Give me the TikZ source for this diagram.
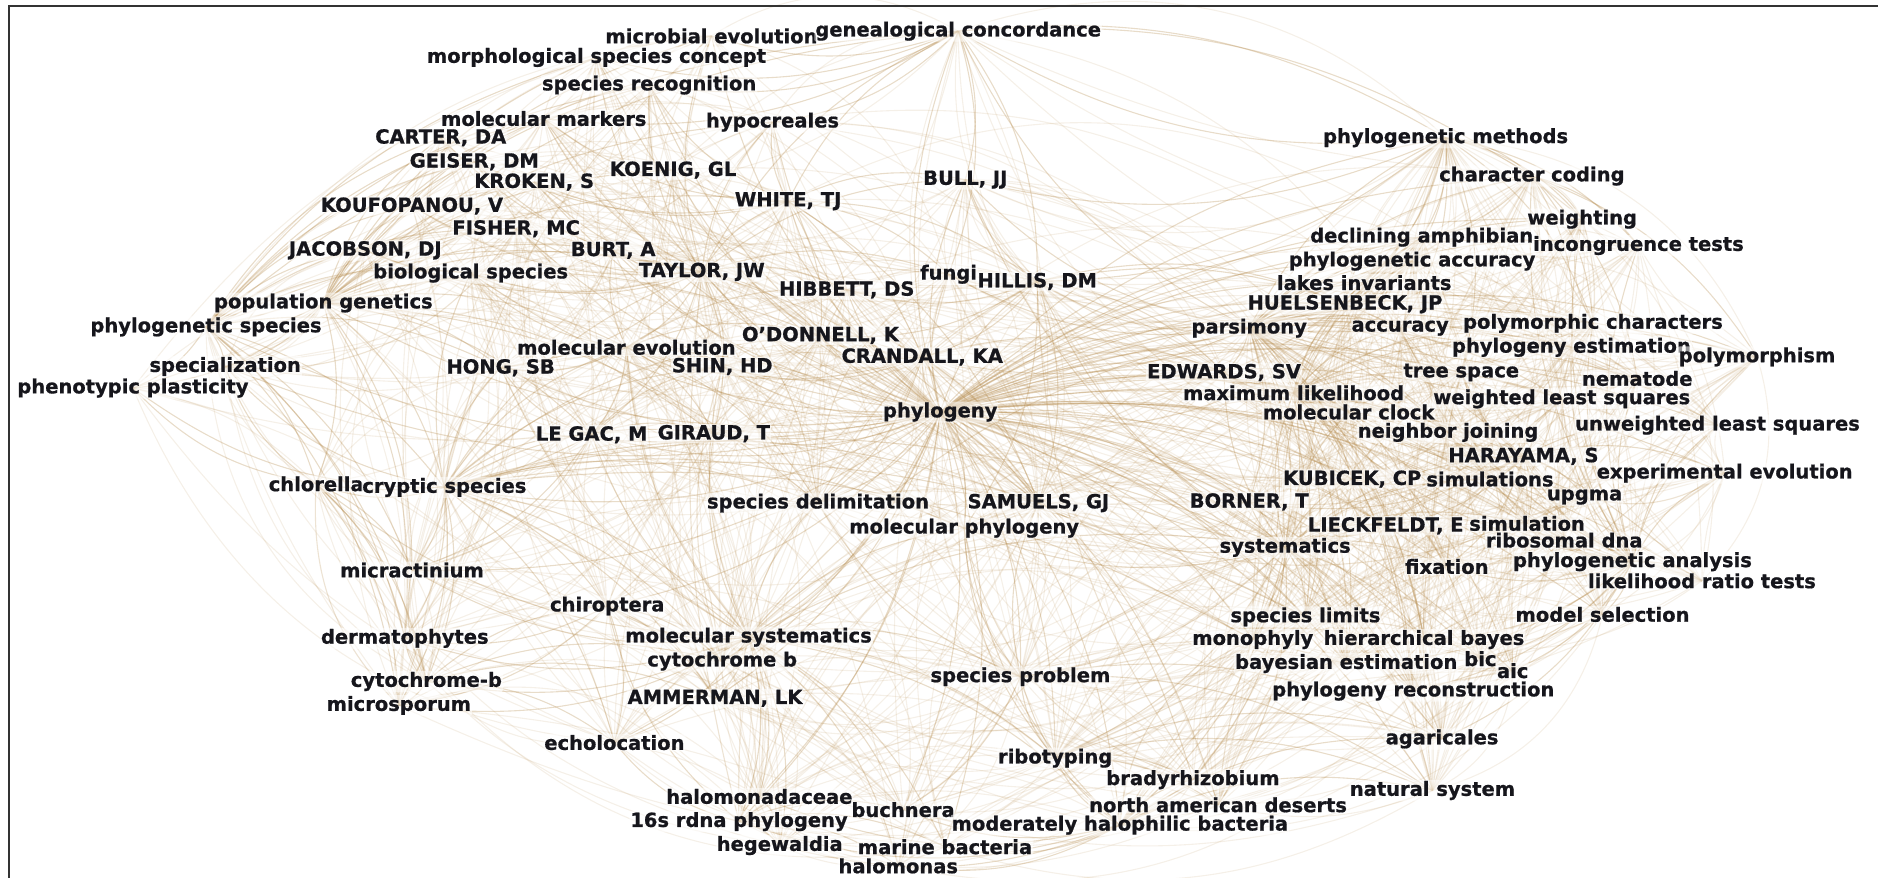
\documentclass[tikz,border=0pt]{standalone}
\usepackage{fontspec}
\setmainfont{DejaVu Sans}[BoldFeatures={FakeBold=0.8}]
\usetikzlibrary{backgrounds}
\definecolor{edgetan}{RGB}{180,138,76}
\definecolor{labelink}{RGB}{22,22,28}

\begin{document}
\begin{tikzpicture}[x=1.1977pt,y=-1.1977pt,
  lbl/.style={font=\bfseries\fontsize{19.5}{20}\selectfont,text=labelink,fill=white,fill opacity=0.55,text opacity=1,inner sep=1pt,rounded corners=2pt},
  link/.style={edgetan,opacity=0.3,line width=1.1pt,bend left=18},
  mesh/.style={edgetan,opacity=0.13,line width=1.1pt}]
\useasboundingbox (0,0) rectangle (1568,733);
\draw[line width=2.5pt,black!80] (7.5,733) |- (1568,5);

\node[lbl] (mev) at (594,30) {microbial evolution};
\node[lbl] (gen) at (800,26) {genealogical concordance};
\node[lbl] (msc) at (498,48) {morphological species concept};
\node[lbl] (srec) at (542,71) {species recognition};
\node[lbl] (mmk) at (454,99) {molecular markers};
\node[lbl] (hyp) at (645,102) {hypocreales};
\node[lbl] (cart) at (368,115) {CARTER, DA};
\node[lbl] (geis) at (396,135) {GEISER, DM};
\node[lbl] (koen) at (562,142) {KOENIG, GL};
\node[lbl] (krok) at (446,152) {KROKEN, S};
\node[lbl] (bull) at (806,150) {BULL, JJ};
\node[lbl] (whit) at (658,168) {WHITE, TJ};
\node[lbl] (kouf) at (344,172) {KOUFOPANOU, V};
\node[lbl] (fish) at (431,191) {FISHER, MC};
\node[lbl] (jaco) at (305,209) {JACOBSON, DJ};
\node[lbl] (burt) at (512,209) {BURT, A};
\node[lbl] (bios) at (393,228) {biological species};
\node[lbl] (tayl) at (586,227) {TAYLOR, JW};
\node[lbl] (fung) at (792,229) {fungi};
\node[lbl] (hill) at (866,235) {HILLIS, DM};
\node[lbl] (hibb) at (707,242) {HIBBETT, DS};
\node[lbl] (popg) at (270,253) {population genetics};
\node[lbl] (phsp) at (172,273) {phylogenetic species};
\node[lbl] (spec) at (188,306) {specialization};
\node[lbl] (mole) at (523,290) {molecular evolution};
\node[lbl] (odon) at (685,280) {O'DONNELL, K};
\node[lbl] (hong) at (418,307) {HONG, SB};
\node[lbl] (shin) at (603,306) {SHIN, HD};
\node[lbl] (cran) at (770,298) {CRANDALL, KA};
\node[lbl] (phen) at (111,324) {phenotypic plasticity};
\node[lbl] (phyl) at (785,344) {phylogeny};
\node[lbl] (lega) at (494,363) {LE GAC, M};
\node[lbl] (gira) at (596,362) {GIRAUD, T};
\node[lbl] (chlo) at (264,404) {chlorella};
\node[lbl] (cryp) at (371,407) {cryptic species};
\node[lbl] (sdel) at (683,420) {species delimitation};
\node[lbl] (samu) at (867,420) {SAMUELS, GJ};
\node[lbl] (mphy) at (805,441) {molecular phylogeny};
\node[lbl] (micr) at (344,476) {micractinium};
\node[lbl] (chir) at (507,506) {chiroptera};
\node[lbl] (derm) at (338,533) {dermatophytes};
\node[lbl] (msys) at (625,532) {molecular systematics};
\node[lbl] (cytb) at (603,552) {cytochrome b};
\node[lbl] (cytd) at (356,569) {cytochrome-b};
\node[lbl] (sprob) at (852,565) {species problem};
\node[lbl] (amme) at (597,583) {AMMERMAN, LK};
\node[lbl] (msp) at (333,589) {microsporum};
\node[lbl] (echo) at (513,620) {echolocation};
\node[lbl] (ribo) at (881,633) {ribotyping};
\node[lbl] (brad) at (996,651) {bradyrhizobium};
\node[lbl] (hfam) at (634,665) {halomonadaceae};
\node[lbl] (buch) at (754,676) {buchnera};
\node[lbl] (nad) at (1017,672) {north american deserts};
\node[lbl] (nats) at (1196,660) {natural system};
\node[lbl] (rdna) at (617,686) {16s rdna phylogeny};
\node[lbl] (mhb) at (935,689) {moderately halophilic bacteria};
\node[lbl] (hege) at (651,706) {hegewaldia};
\node[lbl] (marb) at (789,707) {marine bacteria};
\node[lbl] (halo) at (750,723) {halomonas};

\node[lbl] (pmet) at (1207,115) {phylogenetic methods};
\node[lbl] (ccod) at (1279,147) {character coding};
\node[lbl] (wght) at (1321,183) {weighting};
\node[lbl] (damp) at (1187,198) {declining amphibian};
\node[lbl] (inct) at (1368,205) {incongruence tests};
\node[lbl] (pacc) at (1179,218) {phylogenetic accuracy};
\node[lbl] (lake) at (1139,236) {lakes invariants};
\node[lbl] (huel) at (1123,254) {HUELSENBECK, JP};
\node[lbl] (pars) at (1043,274) {parsimony};
\node[lbl] (accu) at (1169,274) {accuracy};
\node[lbl] (pchr) at (1330,270) {polymorphic characters};
\node[lbl] (pest) at (1312,290) {phylogeny estimation};
\node[lbl] (pmor) at (1467,298) {polymorphism};
\node[lbl] (edwa) at (1022,311) {EDWARDS, SV};
\node[lbl] (tree) at (1220,311) {tree space};
\node[lbl] (nema) at (1367,316) {nematode};
\node[lbl] (mlik) at (1080,328) {maximum likelihood};
\node[lbl] (wls) at (1304,333) {weighted least squares};
\node[lbl] (mclk) at (1126,344) {molecular clock};
\node[lbl] (nj) at (1209,361) {neighbor joining};
\node[lbl] (uwls) at (1434,355) {unweighted least squares};
\node[lbl] (hara) at (1272,381) {HARAYAMA, S};
\node[lbl] (expe) at (1440,395) {experimental evolution};
\node[lbl] (kubi) at (1129,400) {KUBICEK, CP};
\node[lbl] (sims) at (1244,400) {simulations};
\node[lbl] (born) at (1043,419) {BORNER, T};
\node[lbl] (upgm) at (1323,415) {upgma};
\node[lbl] (liec) at (1157,439) {LIECKFELDT, E};
\node[lbl] (simu) at (1275,437) {simulation};
\node[lbl] (ribd) at (1306,451) {ribosomal dna};
\node[lbl] (syst) at (1073,457) {systematics};
\node[lbl] (fixa) at (1208,473) {fixation};
\node[lbl] (pana) at (1363,469) {phylogenetic analysis};
\node[lbl] (lrt) at (1421,485) {likelihood ratio tests};
\node[lbl] (slim) at (1090,515) {species limits};
\node[lbl] (msel) at (1338,513) {model selection};
\node[lbl] (mono) at (1046,534) {monophyly};
\node[lbl] (hbay) at (1189,534) {hierarchical bayes};
\node[lbl] (best) at (1124,554) {bayesian estimation};
\node[lbl] (bic) at (1236,550) {bic};
\node[lbl] (aic) at (1263,560) {aic};
\node[lbl] (prec) at (1180,577) {phylogeny reconstruction};
\node[lbl] (agar) at (1204,617) {agaricales};

\def\nodenames{{"mev","gen","msc","srec","mmk","hyp","cart","geis","koen","krok","bull","whit","kouf","fish","jaco","burt","bios","tayl","fung","hill","hibb","popg","phsp","spec","mole","odon","hong","shin","cran","phen","phyl","lega","gira","chlo","cryp","sdel","samu","mphy","micr","chir","derm","msys","cytb","cytd","sprob","amme","msp","echo","ribo","brad","hfam","buch","nad","nats","rdna","mhb","hege","marb","halo","pmet","ccod","wght","damp","inct","pacc","lake","huel","pars","accu","pchr","pest","pmor","edwa","tree","nema","mlik","wls","mclk","nj","uwls","hara","expe","kubi","sims","born","upgm","liec","simu","ribd","syst","fixa","pana","lrt","slim","msel","mono","hbay","best","bic","aic","prec","agar"}}

\begin{pgfonlayer}{background}
\pgfmathsetseed{2718}
\foreach \i in {1,...,2400}{
  \pgfmathtruncatemacro{\ka}{random(0,101)}
  \pgfmathtruncatemacro{\kb}{random(0,101)}
  \pgfmathtruncatemacro{\bb}{10+mod(\i,4)*7}
  \pgfmathsetmacro{\na}{\nodenames[\ka]}
  \pgfmathsetmacro{\nb}{\nodenames[\kb]}
  \path (\na.center); \pgfgetlastxy{\xa}{\ya}
  \path (\nb.center); \pgfgetlastxy{\xb}{\yb}
  \pgfmathsetmacro{\dd}{veclen(\xb-\xa,\yb-\ya)}
  \ifdim\dd pt>20pt \ifdim\dd pt<640pt
    \draw[mesh,bend left=\bb] (\na.center) to (\nb.center);
  \fi\fi
}
\foreach \b in {gen,mev,msc,srec,mmk,hyp,bull,whit,tayl,fung,hill,hibb,odon,cran,shin,mole,hong,gira,lega,sdel,samu,mphy,msys,cytb,sprob,chir,cryp,popg,bios,phsp,burt,krok,koen,fish,pars,edwa,mlik,mclk,huel,accu,lake,pacc,damp,pmet,ccod,wght,inct,tree,nj,kubi,born,liec,syst,slim,mono,best,hbay,prec,agar,nats,ribo,brad,mhb,buch,hfam,rdna,marb,pest,pchr,wls,uwls,hara,sims,simu,fixa,ribd,pana,msel,lrt,upgm,expe,nema,pmor,aic,bic,echo,amme,micr,spec,nad}
  \draw[link] (phyl.center) to (\b.center);
\foreach \b in {phsp,spec,phen,bios,jaco,kouf,fish,geis,cart,krok,mmk,srec,msc,mev,tayl,burt,cryp,chlo,micr,derm,mole,hong,lega,gira,whit,koen,gen,sdel,hyp,odon}
  \draw[link] (popg.center) to (\b.center);
\foreach \b in {spec,phen,bios,jaco,kouf,cryp,chlo,derm,msp,cytd,mmk,srec,msc,gen,tayl,cart,geis,micr,fish,hong}
  \draw[link] (phsp.center) to (\b.center);
\foreach \b in {chlo,micr,lega,gira,hong,mole,shin,sdel,bios,spec,phen,derm,msp,cytd,chir,msys,echo,tayl,odon,samu,syst,slim,mono,cytb,amme,mphy}
  \draw[link] (cryp.center) to (\b.center);
\foreach \b in {chir,cytb,amme,echo,cytd,derm,msp,hfam,rdna,hege,buch,marb,halo,sprob,mphy,sdel,lega,gira,shin,syst,pars,micr,chlo,ribo,mhb,mole,hong}
  \draw[link] (msys.center) to (\b.center);
\foreach \b in {whit,koen,krok,geis,cart,fish,burt,jaco,kouf,bios,hibb,odon,shin,hong,mole,gen,hyp,mmk,srec,msc,fung,samu,sdel,mev,bull,lega,gira}
  \draw[link] (tayl.center) to (\b.center);
\foreach \b in {koen,hyp,gen,bull,hibb,odon,fung,geis,krok,mmk,srec,samu,cran,hill}
  \draw[link] (whit.center) to (\b.center);
\foreach \b in {edwa,mlik,mclk,huel,accu,lake,pacc,damp,pmet,ccod,wght,inct,tree,nj,pchr,pest,pmor,nema,wls,uwls,syst,slim,mono,hill,cran,bull,fung,gen,kubi,born,hara,sims,best,hbay,prec,fixa}
  \draw[link] (pars.center) to (\b.center);
\foreach \b in {born,liec,kubi,slim,mono,best,hbay,prec,agar,nats,fixa,simu,sims,mphy,samu,sprob,brad,nad,mhb,ribo,edwa,mlik,mclk,huel,hill,cran,bull,ribd,hara}
  \draw[link] (syst.center) to (\b.center);
\foreach \b in {msel,lrt,aic,bic,hbay,best,prec,ribd,simu,sims,hara,upgm,expe,uwls,wls,nema,pmor,pest,pchr,fixa,agar,nj,tree,mlik,mclk,accu,inct,wght,ccod}
  \draw[link] (pana.center) to (\b.center);
\foreach \b in {kubi,liec,born,upgm,nj,simu,expe,fixa,uwls,sims,ribd,mclk,tree}
  \draw[link] (hara.center) to (\b.center);
\foreach \b in {mclk,edwa,huel,accu,lake,pacc,damp,tree,nj,pest,wls,msel,lrt,aic,bic,best,hbay,slim,mono,prec,pchr}
  \draw[link] (mlik.center) to (\b.center);
\foreach \b in {ccod,wght,inct,damp,pacc,lake,huel,accu,gen,bull,hill,tree,pchr}
  \draw[link] (pmet.center) to (\b.center);
\foreach \b in {wght,inct,pchr,pmor,nema,pest,damp}
  \draw[link] (ccod.center) to (\b.center);
\foreach \b in {hfam,halo,marb,buch,rdna,hege,ribo,brad,nad,nats,sprob,mphy,agar}
  \draw[link] (mhb.center) to (\b.center);
\foreach \b in {hfam,hege,buch,halo,marb,chir,echo}
  \draw[link] (rdna.center) to (\b.center);
\foreach \b in {brad,nad,sprob,nats,mphy,agar}
  \draw[link] (ribo.center) to (\b.center);
\foreach \b in {mphy,samu,sdel,nats,agar,buch}
  \draw[link] (sprob.center) to (\b.center);
\foreach \b in {msc,srec,hyp,bull,hill,fung,pmet,ccod,mev,mmk}
  \draw[link] (gen.center) to (\b.center);
\foreach \b in {bull,fung,cran,hibb,odon,edwa,huel,accu,samu,mphy}
  \draw[link] (hill.center) to (\b.center);
\foreach \b in {odon,hibb,samu,sdel,mphy,edwa,mole,shin}
  \draw[link] (cran.center) to (\b.center);
\foreach \b in {hong,shin,odon,lega,gira,burt,bios,hibb,samu,sdel}
  \draw[link] (mole.center) to (\b.center);
\foreach \b in {gira,hong,shin,chlo,micr}
  \draw[link] (lega.center) to (\b.center);
\foreach \b in {micr,derm,msp,cytd,spec,phen}
  \draw[link] (chlo.center) to (\b.center);
\foreach \b in {derm,msp,micr,echo,amme,chir,cytb}
  \draw[link] (cytd.center) to (\b.center);
\foreach \b in {cytb,amme,echo,msp,derm}
  \draw[link] (chir.center) to (\b.center);
\end{pgfonlayer}
\end{tikzpicture}
\end{document}
